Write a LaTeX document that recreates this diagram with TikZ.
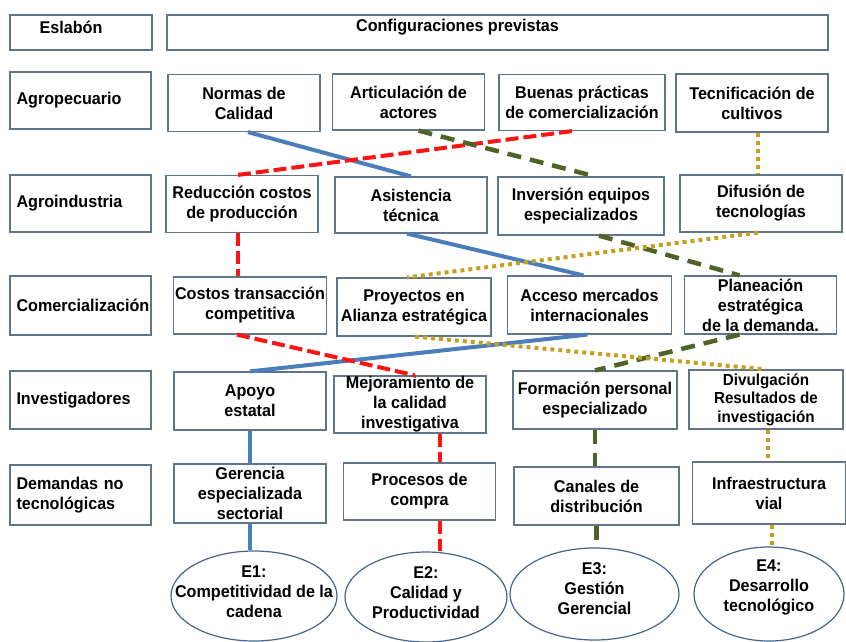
\documentclass[tikz,border=0pt]{standalone}
\usepackage{fontspec}
\setmainfont[FakeStretch=0.95]{Liberation Sans}
\usetikzlibrary{shapes.geometric}
\definecolor{bordecaja}{RGB}{96,116,138}
\definecolor{bordeelipse}{RGB}{70,100,140}
\definecolor{azul}{RGB}{74,126,187}
\definecolor{rojo}{RGB}{250,20,20}
\definecolor{verde}{RGB}{79,98,40}
\definecolor{dorado}{RGB}{196,160,30}
\begin{document}
\begin{tikzpicture}[x=1pt,y=-1pt]
\tikzstyle{every node}+=[inner sep=0pt]
\tikzstyle{letra}=[font=\bfseries\fontsize{17}{20}\selectfont, align=center]
\tikzstyle{caja}=[letra, draw=bordecaja, line width=1.2pt, fill=white]
\tikzstyle{eslabon}=[caja, minimum width=141, text width=128, align=left]
\tikzstyle{meta}=[ellipse, draw=bordeelipse, line width=1.2pt, fill=white]
\tikzstyle{lazo1}=[azul, line width=4pt]
\tikzstyle{lazo2}=[rojo, line width=4pt, dash pattern=on 13pt off 5pt]
\tikzstyle{lazo3}=[verde, line width=4.5pt, dash pattern=on 14pt off 9pt]
\tikzstyle{lazo4}=[dorado, line width=4pt, dash pattern=on 4pt off 4pt]
\fill[white] (0,0) rectangle (846,641);
\useasboundingbox (0,0) rectangle (846,641);
\node[caja, minimum width=142, minimum height=35, label={[letra, xshift=-10, yshift=5]center:Eslabón}] (esl) at (81,32.5) {};
\node[caja, minimum width=661, minimum height=35, label={[letra, xshift=-40, yshift=5]center:Configuraciones previstas}] (conf) at (497.5,32.5) {};
\node[eslabon, minimum height=57] (agro) at (80.5,100.5) {Agropecuario};
\node[eslabon, minimum height=57] (agroind) at (80.5,203.5) {Agroindustria};
\node[eslabon, minimum height=59] (comerc) at (80.5,305.5) {Comercialización};
\node[eslabon, minimum height=58] (invest) at (80.5,400) {Investigadores};
\node[eslabon, minimum height=60] (demand) at (80.5,495) {Demandas no\\tecnológicas};
\node[caja, minimum width=152, minimum height=57] (normas) at (244,103) {Normas de\\Calidad};
\node[caja, minimum width=152, minimum height=56] (artic) at (408.5,102) {Articulación de\\actores};
\node[caja, minimum width=166, minimum height=56] (buenas) at (582,102.5) {Buenas prácticas\\de comercialización};
\node[caja, minimum width=152, minimum height=58] (tecnif) at (752,103) {Tecnificación de\\cultivos};
\node[caja, minimum width=152, minimum height=57] (reduc) at (242,204) {Reducción costos\\de producción};
\node[caja, minimum width=152, minimum height=56] (asist) at (411,205) {Asistencia\\técnica};
\node[caja, minimum width=166, minimum height=58] (invers) at (581,206) {Inversión equipos\\especializados};
\node[caja, minimum width=162, minimum height=57] (difus) at (761,203.5) {Difusión de\\tecnologías};
\node[caja, minimum width=153, minimum height=57] (costos) at (250,305.5) {Costos transacción\\competitiva};
\node[caja, minimum width=154, minimum height=58] (proyec) at (414,307) {Proyectos en\\Alianza estratégica};
\node[caja, minimum width=164, minimum height=58] (acceso) at (589.5,305) {Acceso mercados\\internacionales};
\node[caja, minimum width=152, minimum height=58] (planea) at (760.5,305) {Planeación\\estratégica\\de la demanda.};
\node[caja, minimum width=152, minimum height=58] (apoyo) at (250,401) {Apoyo\\estatal};
\node[caja, minimum width=152, minimum height=57] (mejor) at (410,404.5) {Mejoramiento de\\la calidad\\investigativa};
\node[caja, minimum width=164, minimum height=58] (formac) at (595,400) {Formación personal\\especializado};
\node[caja, minimum width=154, minimum height=59, font=\bfseries\fontsize{16}{18.5}\selectfont] (divulg) at (766,399.5) {Divulgación\\Resultados de\\investigación};
\node[caja, minimum width=152, minimum height=59] (gerenc) at (250,493.5) {Gerencia\\especializada\\sectorial};
\node[caja, minimum width=152, minimum height=57] (proces) at (419.5,491.5) {Procesos de\\compra};
\node[caja, minimum width=165, minimum height=58] (canales) at (596.5,496) {Canales de\\distribución};
\node[caja, minimum width=153, minimum height=62] (infra) at (769,493) {Infraestructura\\vial};
\node[meta, minimum width=166, minimum height=90, label={[letra, yshift=4]center:E1:\\Competitividad de la\\cadena}] (e1) at (254,596) {};
\node[meta, minimum width=162, minimum height=90, label={[letra, yshift=4]center:E2:\\Calidad y\\Productividad}] (e2) at (426,597) {};
\node[meta, minimum width=169, minimum height=92, label={[letra, yshift=5]center:E3:\\Gestión\\Gerencial}] (e3) at (594.5,594) {};
\node[meta, minimum width=150, minimum height=94, label={[letra, yshift=7]center:E4:\\Desarrollo\\tecnológico}] (e4) at (769,594) {};
\draw[lazo1] ([xshift=4]normas.south) -- (asist.north);
\draw[lazo1] ([xshift=-4]asist.south) -- ([xshift=-6]acceso.north);
\draw[lazo1] ([xshift=-2]acceso.south) -- (apoyo.north);
\draw[lazo1] (apoyo.south) -- (gerenc.north);
\draw[lazo1] (gerenc.south) -- (gerenc.south |- e1.north);
\draw[lazo2] ([xshift=-10]buenas.south) -- ([xshift=-4]reduc.north);
\draw[lazo2] ([xshift=-4]reduc.south) -- ([xshift=-4]reduc.south |- costos.north);
\draw[lazo2] ([xshift=-13]costos.south) -- ([xshift=5]mejor.north);
\draw[lazo2] ([xshift=30]mejor.south) -- ([xshift=30]mejor.south |- proces.north);
\draw[lazo2] ([xshift=20]proces.south) -- ([xshift=20]proces.south |- e2.north);
\draw[lazo3] ([xshift=10]artic.south) -- ([xshift=14]invers.north);
\draw[lazo3] ([xshift=18]invers.south) -- ([xshift=-21]planea.north);
\draw[lazo3] ([xshift=-21]planea.south) -- (formac.north);
\draw[lazo3] (formac.south) -- (formac.south |- canales.north);
\draw[lazo3] (canales.south) -- (canales.south |- e3.north);
\draw[lazo4] ([xshift=6]tecnif.south) -- ([xshift=6]tecnif.south |- difus.north);
\draw[lazo4] ([xshift=-3]difus.south) -- ([xshift=-7]proyec.north);
\draw[lazo4] ([xshift=1]proyec.south) -- (divulg.north);
\draw[lazo4] ([xshift=2]divulg.south) -- ([xshift=2]divulg.south |- infra.north);
\draw[lazo4] ([xshift=3]infra.south) -- ([xshift=3]infra.south |- e4.north);
\end{tikzpicture}
\end{document}
